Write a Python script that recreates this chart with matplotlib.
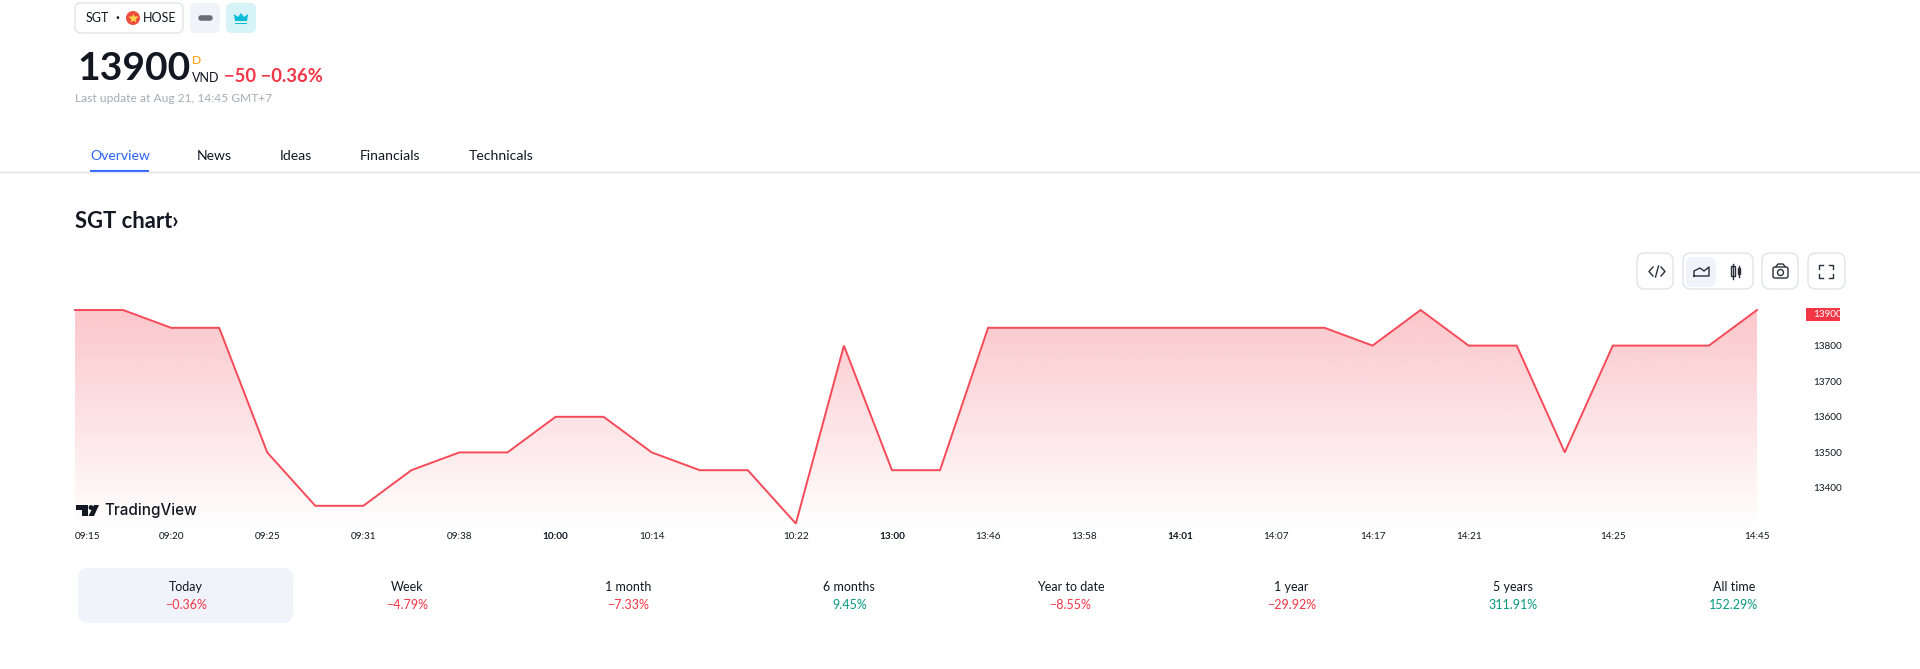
import numpy as np
import matplotlib
matplotlib.use('Agg')
import matplotlib.pyplot as plt
from matplotlib.patches import FancyBboxPatch, Circle, Polygon, Rectangle

plt.rcParams['font.family'] = ['Lato', 'DejaVu Sans']

# chart data
prices = [13900, 13900, 13850, 13850, 13500, 13350, 13350, 13450, 13500, 13500,
          13600, 13600, 13500, 13450, 13450, 13300, 13800, 13450, 13450, 13850,
          13850, 13850, 13850, 13850, 13850, 13850, 13850, 13800, 13900, 13800,
          13800, 13500, 13800, 13800, 13800, 13900]
time_idx = [0, 2, 4, 6, 8, 10, 12, 15, 17, 19, 21, 23, 25, 27, 29, 32, 35]
time_labels = ['09:15', '09:20', '09:25', '09:31', '09:38', '10:00', '10:14', '10:22', '13:00',
               '13:46', '13:58', '14:01', '14:07', '14:17', '14:21', '14:25', '14:45']
bold_times = ['10:00', '13:00', '14:01']
price_ticks = [13400, 13500, 13600, 13700, 13800]
last_price = 13900

period_names = ['Today', 'Week', '1 month', '6 months', 'Year to date', '1 year', '5 years', 'All time']
period_labels = ['\u22120.36%', '\u22124.79%', '\u22127.33%', '9.45%', '\u22128.55%', '\u221229.92%', '311.91%', '152.29%']
period_values = [-0.36, -4.79, -7.33, 9.45, -8.55, -29.92, 311.91, 152.29]

tabs = ['Overview', 'News', 'Ideas', 'Financials', 'Technicals']

RED = '#f23645'
LINE_RED = '#f64a58'
GREEN = '#089981'
INK = '#131722'
W, H = 1920, 669
FONT = ['Lato', 'DejaVu Sans']


def px(v):
    return v * 0.72


fig = plt.figure(figsize=(19.2, 6.69), dpi=100, facecolor='white')

# page furniture is drawn in pixel coordinates
ui = fig.add_axes([0, 0, 1, 1])
ui.set_xlim(0, W)
ui.set_ylim(H, 0)
ui.axis('off')


def box(x0, y0, x1, y1, r=6, fc='white', ec='none', lw=1.0):
    ui.add_patch(FancyBboxPatch((x0 + r, y0 + r), x1 - x0 - 2 * r, y1 - y0 - 2 * r,
                                boxstyle='round,pad=%d,rounding_size=%d' % (r, r),
                                fc=fc, ec=ec, lw=lw))


def txt(x, y, s, size, color=INK, ha='left', weight='normal'):
    ui.text(x, y, s, fontsize=px(size), color=color, ha=ha, va='center',
            weight=weight, family=FONT)


# symbol pill
box(75, 3, 183, 33, r=6, ec='#e0e3eb', lw=1.0)
txt(97, 18, 'SGT', 12.5, ha='center')
txt(117, 18, '\u00b7', 14, ha='center', weight='bold')
ui.add_patch(Circle((133, 18), 7, fc='#ee4d3c', ec='none'))
ui.plot([133], [18], marker='*', ms=7, color='#fbd84a', mec='none')
txt(143, 18, 'HOSE', 12.5)
box(190, 3, 220, 33, r=6, fc='#f0f3fa')
ui.plot([201, 210], [18, 18], color='#6a6d78', lw=4, solid_capstyle='round')
box(226, 3, 256, 33, r=6, fc='#d6f3f8')
ui.add_patch(Polygon([[235, 21], [234, 14], [238, 17], [241, 13], [244, 17], [248, 14], [247, 21]],
                     fc='#00bcd4', ec='none'))
ui.add_patch(Rectangle((235, 22.5), 12, 1.8, fc='#00bcd4', ec='none'))

# price header
txt(77, 69, '13900', 39, weight='bold')
txt(192, 60, 'D', 12, color='#ff9800')
txt(192, 78, 'VND', 12.5)
txt(224, 76, '\u221250 \u22120.36%', 18.4, color=RED, weight='bold')
txt(75, 99, 'Last update at Aug 21, 14:45 GMT+7', 12, color='#a8abb5')

# tabs
ui.plot([0, W], [171.5, 171.5], color='#e0e3eb', lw=1)
for name, x in zip(tabs, [90, 197, 280, 360, 469]):
    txt(x, 156, name, 14, color='#2962ff' if name == 'Overview' else INK)
ui.add_patch(Rectangle((90, 170), 59, 3, fc='#2962ff', ec='none'))
txt(75, 222, 'SGT chart\u203a', 22, weight='bold')

# chart toolbar
for x0, x1 in [(1637, 1673), (1683, 1753), (1762, 1798), (1808, 1845)]:
    box(x0, 253, x1, 289, r=8, ec='#e0e3eb', lw=1.0)
box(1686, 257, 1716, 287, r=6, fc='#f0f3fa')
ui.plot([1653, 1649, 1653], [267, 271.5, 276], color='#2a2e39', lw=1)
ui.plot([1661, 1665, 1661], [267, 271.5, 276], color='#2a2e39', lw=1)
ui.plot([1658.5, 1655.5], [266, 277], color='#2a2e39', lw=1)
ui.plot([1694, 1694, 1700, 1704, 1709, 1709, 1694], [276, 271, 268, 271, 267, 276, 276], color='#2a2e39', lw=1)
ui.add_patch(Rectangle((1731, 266), 3.5, 10, fc='none', ec='#2a2e39', lw=1))
ui.plot([1732.7, 1732.7], [264, 279], color='#2a2e39', lw=1)
ui.add_patch(Rectangle((1737.5, 268), 2.5, 6, fc='none', ec='#2a2e39', lw=1))
ui.plot([1738.7, 1738.7], [266, 277], color='#2a2e39', lw=1)
box(1773, 267, 1788, 278, r=2, ec='#2a2e39', lw=1)
ui.plot([1776, 1778, 1783, 1785], [266.5, 264, 264, 266.5], color='#2a2e39', lw=1)
ui.add_patch(Circle((1780.5, 272.5), 3, fc='none', ec='#2a2e39', lw=1))
for cx, cy in [(1819, 265), (1833, 265), (1819, 278), (1833, 278)]:
    dx = 1 if cx < 1826 else -1
    dy = 1 if cy < 271 else -1
    ui.plot([cx + dx * 4, cx, cx], [cy, cy, cy + dy * 4], color='#2a2e39', lw=1)

# period cards
box(78, 568, 293, 623, r=10, fc='#f0f3fa')
for i, (name, label, val) in enumerate(zip(period_names, period_labels, period_values)):
    cx = 186 + i * 221.1
    txt(cx, 587, name, 12.5, ha='center')
    txt(cx, 605, label, 12.5, ha='center', color=RED if val < 0 else GREEN)

# price tag behind the label
ui.add_patch(Rectangle((1806, 308), 34, 13, fc=RED, ec='none'))

# line chart, 13900 sits at y=310 and 100 units are 35.6 px
ax = fig.add_axes([75 / W, (H - 530) / H, 1682 / W, 220 / H])
ax.patch.set_alpha(0)
xs = np.arange(len(prices))
ax.set_xlim(0, len(prices) - 1)
ax.set_ylim(13900 - 220 / 35.6 * 100, 13900)
for s in ax.spines.values():
    s.set_visible(False)

fill = ax.fill_between(xs, prices, ax.get_ylim()[0], color='none')
grad = np.zeros((256, 2, 4))
grad[..., 0] = 242 / 255
grad[..., 1] = 54 / 255
grad[..., 2] = 69 / 255
grad[..., 3] = np.linspace(0.28, 0.0, 256)[:, None]
im = ax.imshow(grad, extent=[0, len(prices) - 1, ax.get_ylim()[0], ax.get_ylim()[1]],
               aspect='auto', origin='upper', zorder=1)
im.set_clip_path(fill.get_paths()[0], transform=ax.transData)
ax.plot(xs, prices, color=LINE_RED, lw=1.4, zorder=2, clip_on=False, solid_joinstyle='miter')

ax.set_xticks(time_idx)
ax.set_xticklabels(time_labels, fontsize=px(10), color=INK, family=FONT)
ax.tick_params(axis='x', length=0, pad=px(2))
for lab in ax.get_xticklabels():
    if lab.get_text() in bold_times:
        lab.set_fontweight('bold')
ax.get_xticklabels()[0].set_ha('left')

ax.yaxis.tick_right()
ax.set_yticks(price_ticks)
ax.set_yticklabels([str(p) for p in price_ticks], fontsize=px(10), color=INK, family=FONT)
ax.tick_params(axis='y', length=0, pad=px(56))

# last price label, nudged down so it stays below the chart top
ax.annotate(str(last_price), xy=(1, last_price), xycoords=('axes fraction', 'data'),
            xytext=(px(56), px(-4.7)), textcoords='offset points', ha='left', va='center',
            fontsize=px(10), color='white', family=FONT, annotation_clip=False)

# watermark, above the chart
logo = fig.add_axes([0, 0, 1, 1])
logo.set_xlim(0, W)
logo.set_ylim(H, 0)
logo.axis('off')
logo.add_patch(Polygon([[76, 505], [88, 505], [88, 516], [82, 516], [82, 510], [76, 510]], fc=INK, ec='none'))
logo.add_patch(Circle((91, 507.5), 2.4, fc=INK, ec='none'))
logo.add_patch(Polygon([[94, 505], [99, 505], [94, 516], [88.5, 516]], fc=INK, ec='none'))
logo.text(104, 511, 'TradingView', fontsize=px(15.2), color=INK, va='center', weight='medium', family='Inter')

fig.savefig('out.png', dpi=100, facecolor='white')
